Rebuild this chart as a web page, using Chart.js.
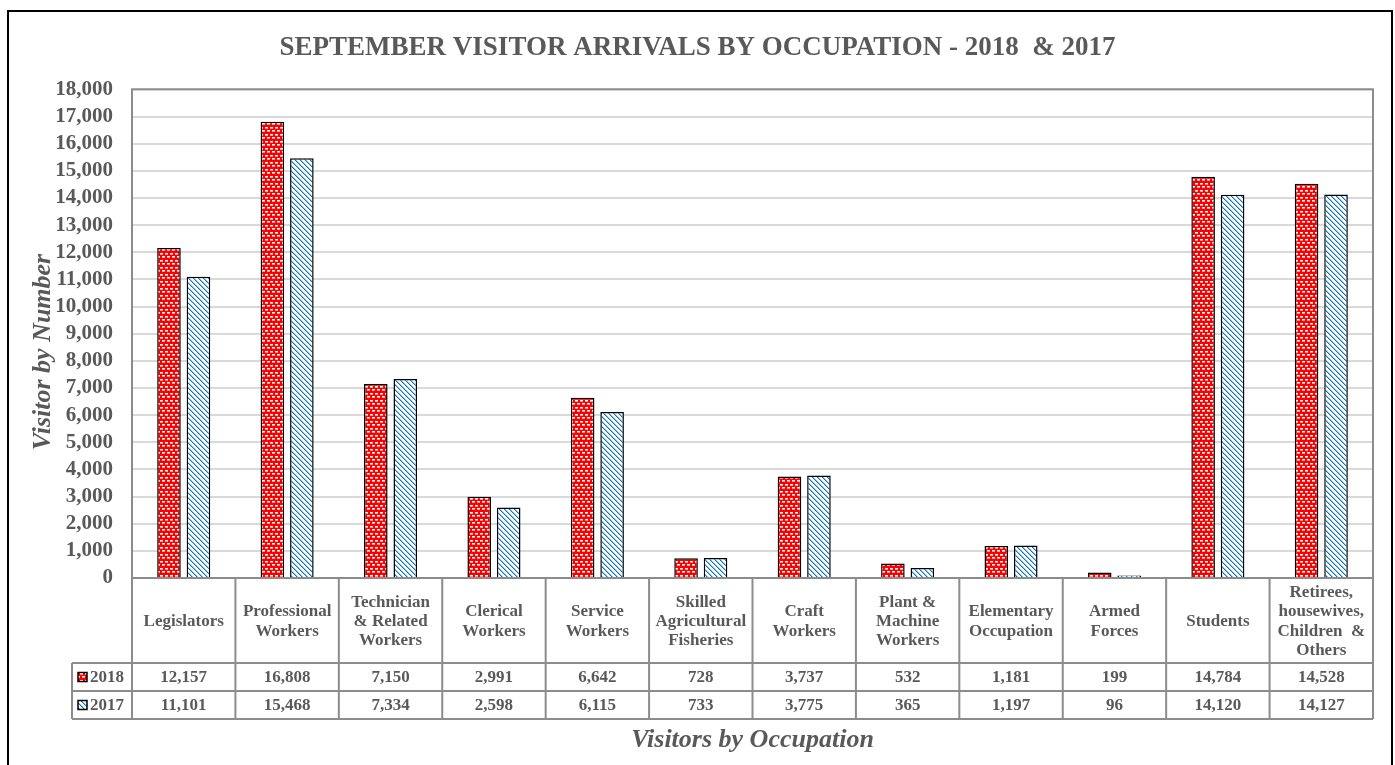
<!DOCTYPE html>
<html><head><meta charset="utf-8">
<script src="https://cdn.jsdelivr.net/npm/chart.js@4.4.0/dist/chart.umd.min.js"></script>
<style>html,body{margin:0;padding:0;background:#fff;overflow:hidden}#wrap{width:1395px;height:765px;position:relative}</style>
</head><body><div id="wrap"><canvas id="c" width="1395" height="765"></canvas></div>
<script>
const categories = [
  ["Legislators"],
  ["Professional","Workers"],
  ["Technician","& Related","Workers"],
  ["Clerical","Workers"],
  ["Service","Workers"],
  ["Skilled","Agricultural","Fisheries"],
  ["Craft","Workers"],
  ["Plant &","Machine","Workers"],
  ["Elementary","Occupation"],
  ["Armed","Forces"],
  ["Students"],
  ["Retirees,","housewives,","Children  &","Others"]
];
const seriesNames = ["2018", "2017"];
const values2018 = [12157, 16808, 7150, 2991, 6642, 728, 3737, 532, 1181, 199, 14784, 14528];
const values2017 = [11101, 15468, 7334, 2598, 6115, 733, 3775, 365, 1197, 96, 14120, 14127];
const yMin = 0, yMax = 18000, yStep = 1000;
const titleText = "SEPTEMBER VISITOR ARRIVALS BY OCCUPATION - 2018  & 2017";
const xTitle = "Visitors by Occupation";
const yTitle = "Visitor by Number";

const SERIF = '"Liberation Serif", "Times New Roman", serif';
const TXT = '#595959';
const LINE = '#8c8c8c';

function redPattern() {
  const c = document.createElement('canvas'); c.width = 10; c.height = 7;
  const g = c.getContext('2d');
  g.fillStyle = '#ff0000'; g.fillRect(0,0,10,7);
  g.fillStyle = '#ffffff';
  g.fillRect(0,1,3,1); g.fillRect(5,1,3,1);
  g.fillRect(2,4,3,1); g.fillRect(7,4,3,1);
  g.fillStyle = '#ff9a9a';
  g.fillRect(0,2,3,1); g.fillRect(5,2,3,1);
  g.fillRect(2,5,3,1); g.fillRect(7,5,3,1);
  return document.getElementById('c').getContext('2d').createPattern(c,'repeat');
}
function bluePattern() {
  const c = document.createElement('canvas'); c.width = 5; c.height = 5;
  const g = c.getContext('2d');
  g.fillStyle = '#ffffff'; g.fillRect(0,0,5,5);
  for (let i = 0; i < 5; i++) {
    g.fillStyle = '#0a74c4';
    g.fillRect(i, i, 1, 1);
    g.fillStyle = '#8fc0ea';
    g.fillRect((i+1)%5, i, 1, 1);
  }
  return document.getElementById('c').getContext('2d').createPattern(c,'repeat');
}
const pat2018 = redPattern();
const pat2017 = bluePattern();
const fmt = v => Number(v).toLocaleString('en-US');

const tablePlugin = {
  id: 'tablePlugin',
  afterDraw(chart) {
    const ctx = chart.ctx;
    const {left, right, top, bottom} = chart.chartArea;
    const xs = chart.scales.x;
    const n = categories.length;
    const centers = categories.map((_, i) => xs.getPixelForValue(i));
    const bounds = [left];
    for (let i = 1; i < n; i++) bounds.push((centers[i-1] + centers[i]) / 2);
    bounds.push(right);
    const hdr = bottom + 85, r1 = hdr + 28, r2 = r1 + 28;
    const legL = 72;
    ctx.save();
    ctx.strokeStyle = LINE; ctx.lineWidth = 2;
    ctx.strokeRect(left, top, right - left, bottom - top);
    ctx.beginPath();
    [hdr, r1, r2].forEach(y => { ctx.moveTo(legL, y); ctx.lineTo(right, y); });
    bounds.forEach(b => { ctx.moveTo(b, bottom); ctx.lineTo(b, r2); });
    ctx.moveTo(legL, hdr); ctx.lineTo(legL, r2);
    ctx.stroke();
    ctx.fillStyle = TXT;
    ctx.font = 'bold 17px ' + SERIF;
    ctx.textAlign = 'center'; ctx.textBaseline = 'middle';
    const lh = 19.3;
    const hc = (bottom + hdr) / 2 + 1;
    categories.forEach((lines, i) => {
      const cx = (bounds[i] + bounds[i+1]) / 2;
      const y0 = hc - (lines.length - 1) * lh / 2;
      lines.forEach((t, k) => ctx.fillText(t, cx, y0 + k * lh));
    });
    const rows = [[values2018, pat2018, (hdr + r1) / 2], [values2017, pat2017, (r1 + r2) / 2]];
    rows.forEach(([vals, pat, cy], ri) => {
      vals.forEach((v, i) => {
        const cx = (bounds[i] + bounds[i+1]) / 2;
        ctx.fillText(fmt(v), cx, cy + 1);
      });
      ctx.fillStyle = pat;
      ctx.fillRect(78, cy - 4.5, 9, 9);
      ctx.strokeStyle = '#000'; ctx.lineWidth = 1.5;
      ctx.strokeRect(78, cy - 4.5, 9, 9);
      ctx.fillStyle = TXT;
      ctx.textAlign = 'left';
      ctx.fillText(seriesNames[ri], 90, cy + 1);
      ctx.textAlign = 'center';
    });
    ctx.font = 'italic bold 26px ' + SERIF;
    ctx.textBaseline = 'alphabetic';
    ctx.fillText(xTitle, (left + right) / 2, 747);
    ctx.save();
    ctx.translate(50, 352);
    ctx.rotate(-Math.PI / 2);
    ctx.fillText(yTitle, 0, 0);
    ctx.restore();
    ctx.strokeStyle = '#000'; ctx.lineWidth = 2;
    ctx.strokeRect(8, 11, 1384, 770);
    ctx.restore();
  }
};

new Chart(document.getElementById('c'), {
  type: 'bar',
  data: {
    labels: categories,
    datasets: [
      { label: seriesNames[0], data: values2018, backgroundColor: pat2018, borderColor: '#000', borderWidth: 1.5, barPercentage: 0.8, categoryPercentage: 0.57 },
      { label: seriesNames[1], data: values2017, backgroundColor: pat2017, borderColor: '#000', borderWidth: 1.5, barPercentage: 0.8, categoryPercentage: 0.57 }
    ]
  },
  options: {
    responsive: false,
    animation: false,
    layout: { padding: { left: 22, right: 22, top: 0, bottom: 187 } },
    plugins: {
      legend: { display: false },
      tooltip: { enabled: false },
      title: {
        display: true, text: titleText, color: TXT,
        font: { family: SERIF, size: 27, weight: 'bold' },
        padding: { top: 32, bottom: 25 }
      }
    },
    scales: {
      x: { display: false },
      y: {
        min: yMin, max: yMax,
        ticks: { stepSize: yStep, autoSkip: false, color: TXT, padding: 19, font: { family: SERIF, size: 21, weight: 'bold' }, callback: v => fmt(v) },
        grid: { color: '#d9d9d9', lineWidth: 2, drawTicks: false },
        border: { display: false },
        afterFit(s) { s.width = 110; }
      }
    }
  },
  plugins: [tablePlugin]
});
</script></body></html>
